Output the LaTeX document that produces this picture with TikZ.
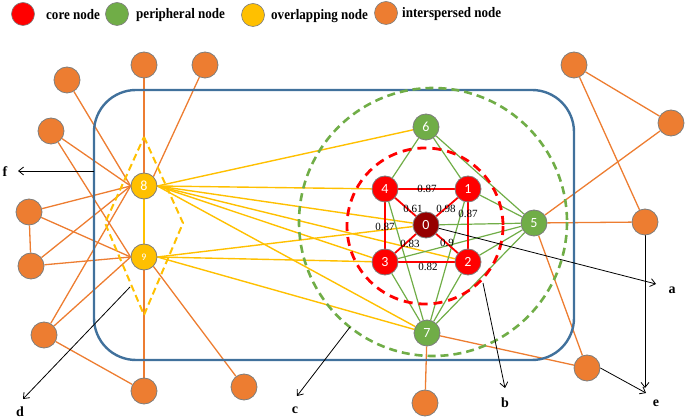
\documentclass[tikz,border=0pt]{standalone}
\usepackage{fontspec}
\setmainfont{Liberation Serif}
\newfontfamily\nodefont{Carlito}
\newfontfamily\legfont[FakeStretch=0.9]{Liberation Serif}
\usetikzlibrary{arrows.meta}
\definecolor{cred}{RGB}{255,0,0}
\definecolor{cdark}{RGB}{150,0,0}
\definecolor{cgreen}{RGB}{112,173,71}
\definecolor{cyellow}{RGB}{255,192,0}
\definecolor{corange}{RGB}{237,125,49}
\definecolor{cblue}{RGB}{65,113,156}
\definecolor{cborder}{RGB}{125,125,125}
\pgfdeclarelayer{bg}
\pgfsetlayers{bg,main}
\begin{document}
\begin{tikzpicture}[x=1pt,y=-1pt,
  vert/.style={circle, draw=cborder, line width=0.8pt, minimum size=26pt, inner sep=0pt, text=white, font=\nodefont\fontsize{14}{14}\selectfont},
  corev/.style={vert, fill=cred},
  centv/.style={vert, fill=cdark},
  perv/.style={vert, fill=cgreen},
  ovv/.style={vert, fill=cyellow},
  intv/.style={vert, fill=corange},
  legv/.style={circle, draw=cborder, line width=0.6pt, minimum size=23pt, inner sep=0pt},
  legtext/.style={anchor=west, inner sep=0pt, font=\legfont\bfseries\fontsize{14.5}{15}\selectfont},
  lett/.style={inner sep=0pt, font=\bfseries\fontsize{14}{14}\selectfont},
  wt/.style={inner sep=0pt, font=\fontsize{11}{11}\selectfont},
  oedge/.style={corange, line width=1.3pt},
  yedge/.style={cyellow, line width=1.4pt},
  gedge/.style={cgreen, line width=1.2pt},
  redge/.style={cred, line width=1.8pt},
  arr/.style={black, line width=0.8pt, -{Straight Barb[length=5pt,width=8pt]}}]
\useasboundingbox (0,0) rectangle (685,419);
% legend
\node[legv, fill=cred] (lg1) at (23,14) {};
\node[legv, fill=cgreen] (lg2) at (117,14) {};
\node[legv, fill=cyellow] (lg3) at (253,15) {};
\node[legv, fill=corange] (lg4) at (386,13) {};
\node[legtext] (lt1) at (46,15) {core node};
\node[legtext] (lt2) at (136,15) {peripheral node};
\node[legtext] (lt3) at (271,16) {overlapping node};
\node[legtext] (lt4) at (402,14) {interspersed node};
% main nodes
\node[centv] (n0) at (426,225) {0};
\node[corev] (n1) at (468,189) {1};
\node[corev] (n2) at (468,262) {2};
\node[corev] (n3) at (385,262) {3};
\node[corev] (n4) at (385,189) {4};
\node[perv] (n5) at (534,223) {5};
\node[perv] (n6) at (426,127) {6};
\node[perv] (n7) at (427,333) {7};
\node[ovv] (n8) at (144,186) {8};
\node[ovv, font=\nodefont\fontsize{10}{10}\selectfont] (n9) at (144,257) {9};
% interspersed nodes
\node[intv] (o1) at (67,80) {};
\node[intv] (o2) at (144,65) {};
\node[intv] (o3) at (205,65) {};
\node[intv] (o4) at (51,131) {};
\node[intv] (o5) at (29,212) {};
\node[intv] (o6) at (31,266) {};
\node[intv] (o7) at (44,335) {};
\node[intv] (o8) at (144,391) {};
\node[intv] (o9) at (244,387) {};
\node[intv] (o10) at (425,403) {};
\node[intv] (o11) at (587,368) {};
\node[intv] (o12) at (574,65) {};
\node[intv] (o13) at (671,123) {};
\node[intv] (o14) at (645,222) {};
% weights
\node[wt] (w1) at (427,189) {0.87};
\node[wt] (w2) at (413,209) {0.61};
\node[wt] (w3) at (446,209) {0.98};
\node[wt] (w4) at (468,214) {0.87};
\node[wt] (w5) at (385,227) {0.87};
\node[wt] (w6) at (410,244) {0.83};
\node[wt] (w7) at (447,243) {0.9};
\node[wt] (w8) at (428,267) {0.82};
% letters
\node[lett] (la) at (672,290) {a};
\node[lett] (lb) at (505,403) {b};
\node[lett] (lc) at (295,410) {c};
\node[lett] (ld) at (20,412) {d};
\node[lett] (le) at (656,403) {e};
\node[lett] (lf) at (5,172) {f};
% arrow coordinates
\coordinate (ta) at (656,284);
\coordinate (sb) at (483,283);
\coordinate (tb) at (505,388);
\coordinate (sc) at (350,327);
\coordinate (tc) at (297,396);
\coordinate (sd) at (130,287);
\coordinate (td) at (23,399);
\coordinate (te1) at (645,388);
\coordinate (te2) at (646,393);
\coordinate (sf) at (94,171);
\coordinate (tf) at (18,171);
\coordinate (dt) at (144,137);
\coordinate (dr) at (183,223);
\coordinate (db) at (144,315);
\coordinate (dl) at (105,223);
\begin{pgfonlayer}{bg}
% orange edges
\draw[oedge] (o1) -- (n8.west);
\draw[oedge] (o2) -- (n8.north);
\draw[oedge] (o3) -- (n8.north east);
\draw[oedge] (o4) -- (n8.west);
\draw[oedge] (o4) -- (n9.west);
\draw[oedge] (o5) -- (n8.west);
\draw[oedge] (o5) -- (n9.west);
\draw[oedge] (o5) -- (o6);
\draw[oedge] (o6) -- (n9.west);
\draw[oedge] (o6) -- (n8.west);
\draw[oedge] (o7) -- (n9.west);
\draw[oedge] (o7) -- (n8.west);
\draw[oedge] (o7) -- (o8);
\draw[oedge] (n9.south) -- (o8);
\draw[oedge] (n9.south east) -- (o9);
\draw[oedge] (n5) -- (o13);
\draw[oedge] (n5) -- (o14);
\draw[oedge] (o12) -- (o13);
\draw[oedge] (o12) -- (o14);
\draw[oedge] (n5) -- (o11);
\draw[oedge] (n7) -- (o11);
\draw[oedge] (n7) -- (o10);
% yellow edges
\draw[yedge] (n8.south) -- (n9.north);
\draw[yedge] (n8.east) -- (n6);
\draw[yedge] (n8.east) -- (n4);
\draw[yedge] (n8.east) -- (n0);
\draw[yedge] (n8.east) -- (n2);
\draw[yedge] (n8.east) -- (n3);
\draw[yedge] (n8.east) -- (n7);
\draw[yedge] (n9.east) -- (n0);
\draw[yedge] (n9.east) -- (n3);
\draw[yedge] (n9.east) -- (n7);
% green edges
\draw[gedge] (n6) -- (n4);
\draw[gedge] (n6) -- (n1);
\draw[gedge] (n6) -- (n5);
\draw[gedge] (n1) -- (n5);
\draw[gedge] (n0) -- (n5);
\draw[gedge] (n3) -- (n5);
\draw[gedge] (n2) -- (n5);
\draw[gedge] (n7) -- (n5);
\draw[gedge] (n7) -- (n3);
\draw[gedge] (n7) -- (n4);
\draw[gedge] (n7) -- (n1);
\draw[gedge] (n7) -- (n2);
% red edges
\draw[redge] (n4) -- (n1);
\draw[redge] (n4) -- (n3);
\draw[redge] (n1) -- (n2);
\draw[redge] (n3) -- (n2);
\draw[redge] (n0) -- (n1);
\draw[redge] (n0) -- (n2);
\draw[redge] (n0) -- (n3);
\draw[redge] (n0) -- (n4);
% frame and groups
\draw[cblue, line width=2.4pt, rounded corners=42pt] (94,90) rectangle (574,360);
\draw[cgreen, line width=2.6pt, dash pattern=on 8pt off 5pt] (433,222) circle[radius=134];
\draw[cred, line width=2.8pt, dash pattern=on 9pt off 6pt] (425,226) circle[radius=78];
\draw[cyellow, line width=2pt, dash pattern=on 7pt off 4pt] (dt) -- (dr) -- (db) -- (dl) -- cycle;
% arrows
\draw[arr] (n0.center) -- (ta);
\draw[arr] (sb) -- (tb);
\draw[arr] (sc) -- (tc);
\draw[arr] (sd) -- (td);
\draw[arr] (o14.south) -- (te1);
\draw[arr] (o11.east) -- (te2);
\draw[arr] (sf) -- (tf);
\end{pgfonlayer}
\end{tikzpicture}
\end{document}
